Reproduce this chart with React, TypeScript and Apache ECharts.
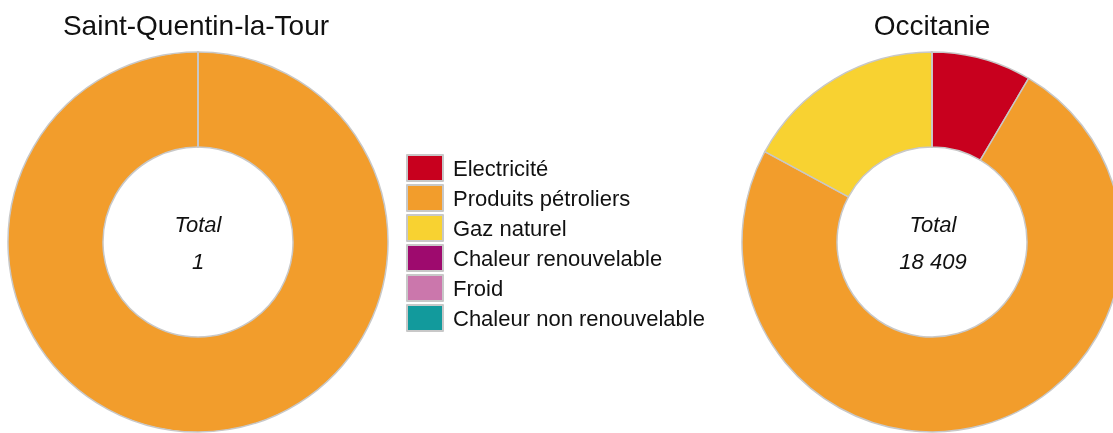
import React, { useEffect, useRef } from "react";
import * as echarts from "echarts";

const categories = [
  "Electricité",
  "Produits pétroliers",
  "Gaz naturel",
  "Chaleur renouvelable",
  "Froid",
  "Chaleur non renouvelable",
];
const colors = ["#C8001E", "#F29D2C", "#F8D231", "#9E0A6E", "#CB77AC", "#129A9C"];
const leftTitle = "Saint-Quentin-la-Tour";
const rightTitle = "Occitanie";
const leftValues = [0, 1, 0, 0, 0, 0];
const rightValues = [1563, 13696, 3150, 0, 0, 0];
const leftTotal = "1";
const rightTotal = "18 409";

const FONT = "'Liberation Sans', Arial, sans-serif";

export default function App() {
  const ref = useRef<HTMLDivElement>(null);
  useEffect(() => {
    document.body.style.margin = "0";
    const chart = echarts.init(ref.current!, null, { renderer: "svg" });
    const mk = (vals: number[]) =>
      categories.map((c, i) => ({ name: c, value: vals[i], itemStyle: { color: colors[i] } }));
    const pieBase = {
      type: "pie",
      radius: [95, 190],
      startAngle: 90,
      clockwise: true,
      label: { show: false },
      labelLine: { show: false },
      emphasis: { disabled: true },
      itemStyle: { borderColor: "#c8c8c8", borderWidth: 1.5 },
      avoidLabelOverlap: false,
    };
    const titleStyle = { fontSize: 28, fontWeight: "normal", color: "#111", fontFamily: FONT };
    const totalStyle = { fontSize: 22, fontWeight: "normal", fontStyle: "italic", color: "#111", fontFamily: FONT };
    chart.setOption({
      animation: false,
      textStyle: { fontFamily: FONT },
      title: [
        { text: leftTitle, left: 191, top: 6, textAlign: "center", textStyle: titleStyle },
        { text: rightTitle, left: 927, top: 6, textAlign: "center", textStyle: titleStyle },
        { text: "Total", left: 193, top: 208, textAlign: "center", textStyle: totalStyle },
        { text: leftTotal, left: 193, top: 245, textAlign: "center", textStyle: totalStyle },
        { text: "Total", left: 928, top: 208, textAlign: "center", textStyle: totalStyle },
        { text: rightTotal, left: 928, top: 245, textAlign: "center", textStyle: totalStyle },
      ],
      legend: {
        orient: "vertical",
        left: 401,
        top: 149,
        itemWidth: 36,
        itemHeight: 26,
        itemGap: 2,
        icon: "rect",
        selectedMode: false,
        data: categories,
        itemStyle: { borderColor: "#c8c8c8", borderWidth: 2 },
        textStyle: { fontSize: 22, color: "#111", fontFamily: FONT, padding: [0, 0, 0, 5] },
      },
      series: [
        { ...pieBase, name: leftTitle, center: [198, 242], data: mk(leftValues) },
        { ...pieBase, name: rightTitle, center: [932, 242], data: mk(rightValues) },
      ],
    });
    return () => chart.dispose();
  }, []);
  return <div ref={ref} style={{ position: "fixed", left: 0, top: 0, width: 1113, height: 433 }} />;
}
